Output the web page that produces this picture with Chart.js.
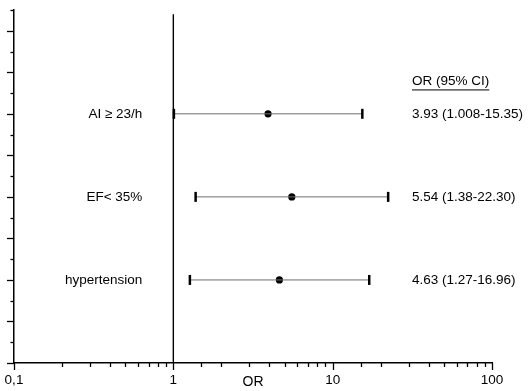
<!DOCTYPE html>
<html lang="en">
<head>
<meta charset="UTF-8">
<title>Forest plot</title>
<script src="https://cdn.jsdelivr.net/npm/chart.js"></script>
<style>
  body{margin:0; background:#fff;}
  #myChart{display:block;}
</style>
</head>
<body>
<canvas id="myChart" width="529" height="391"></canvas>
<script>
// data
const rowLabels = ['AI \u2265 23/h', 'EF< 35%', 'hypertension'];
const rowPos = [6, 4, 2];
const orValues = [3.93, 5.54, 4.63];
const ciLow = [1.008, 1.38, 1.27];
const ciHigh = [15.35, 22.30, 16.96];
const ciText = ['3.93 (1.008-15.35)', '5.54 (1.38-22.30)', '4.63 (1.27-16.96)'];
const headerText = 'OR (95% CI)';
const headerPos = 6.78;
const xTickValues = [0.1, 1, 10, 100];
const xTickLabels = ['0,1', '1', '10', '100'];
const refValue = 1;
const yMin = 0, yMax = 8.5;

const FONT = '"Liberation Sans", Arial, sans-serif';

let datasets = [];
// reference line at OR = 1
datasets.push({
  data: [{x: refValue, y: yMin}, {x: refValue, y: 8.4}],
  showLine: true, borderColor: '#000', borderWidth: 1.4, pointRadius: 0
});
// CI whiskers with caps
for (let i = 0; i < rowLabels.length; i++) {
  datasets.push({
    data: [{x: ciLow[i], y: rowPos[i]}, {x: ciHigh[i], y: rowPos[i]}],
    showLine: true, borderColor: '#6f6f6f', borderWidth: 1,
    pointStyle: 'line', pointRotation: 90, pointRadius: 5,
    pointBorderColor: '#000', pointBorderWidth: 2.5
  });
}
// point estimates
datasets.push({
  data: orValues.map((v, i) => ({x: v, y: rowPos[i]})),
  pointRadius: 3.6, pointBackgroundColor: '#000', pointBorderColor: '#000', pointBorderWidth: 0
});

// tick marks (long for major, short for minor) and the text columns
const forestText = {
  id: 'forestText',
  afterDraw(chart) {
    const c = chart.ctx, xs = chart.scales.x, ys = chart.scales.y, area = chart.chartArea;
    c.save();
    c.strokeStyle = '#000';
    c.lineWidth = 1.3;
    ys.ticks.forEach(t => {
      const y = Math.round(ys.getPixelForValue(t.value)) + 0.5;
      const len = Number.isInteger(t.value) ? 7 : 3.5;
      c.beginPath(); c.moveTo(area.left, y); c.lineTo(area.left - len, y); c.stroke();
    });
    xs.ticks.forEach(t => {
      const lg = Math.log10(t.value);
      const major = Math.abs(lg - Math.round(lg)) < 1e-6;
      const x = Math.round(xs.getPixelForValue(t.value)) + 0.5;
      c.beginPath(); c.moveTo(x, area.bottom); c.lineTo(x, area.bottom + (major ? 7 : 4)); c.stroke();
    });

    c.fillStyle = '#000';
    c.font = '13.5px ' + FONT;
    c.textBaseline = 'middle';
    const leftX = xs.getPixelForValue(refValue) - 31;
    const rightX = area.right - 80;
    for (let i = 0; i < rowLabels.length; i++) {
      const y = ys.getPixelForValue(rowPos[i]);
      c.textAlign = 'right';
      c.fillText(rowLabels[i], leftX, y);
      c.textAlign = 'left';
      c.fillText(ciText[i], rightX, y);
    }
    const hy = ys.getPixelForValue(headerPos);
    c.textAlign = 'left';
    c.fillText(headerText, rightX, hy);
    const w = c.measureText(headerText).width;
    c.lineWidth = 1;
    c.beginPath(); c.moveTo(rightX, hy + 8.5); c.lineTo(rightX + w, hy + 8.5); c.stroke();
    c.restore();
  }
};

const ctx = document.getElementById('myChart');
let myChart = new Chart(ctx, {
  type: 'scatter',
  data: {datasets: datasets},
  plugins: [forestText],
  options: {
    responsive: false,
    animation: false,
    layout: {padding: {top: 10, right: 37, left: 0, bottom: 0}},
    plugins: {legend: {display: false}, tooltip: {enabled: false}},
    scales: {
      x: {
        type: 'logarithmic',
        min: 0.1, max: 100,
        afterFit: s => { s.height = 28; },
        border: {color: '#000', width: 1.5},
        grid: {display: true, drawOnChartArea: false, tickLength: 5, tickColor: 'rgba(0,0,0,0)'},
        ticks: {
          autoSkip: false, maxRotation: 0, padding: 4, color: '#000',
          font: {family: FONT, size: 13.5},
          callback: function (v) {
            const k = xTickValues.findIndex(t => Math.abs(t - v) < 1e-9);
            return k >= 0 ? xTickLabels[k] : '';
          }
        },
        title: {display: true, text: 'OR', color: '#000', font: {family: FONT, size: 14}, padding: {top: -8, bottom: 0}}
      },
      y: {
        type: 'linear',
        min: yMin, max: yMax,
        afterFit: s => { s.width = 14; },
        border: {color: '#000', width: 1.5},
        grid: {display: true, drawOnChartArea: false, drawTicks: false},
        ticks: {display: false, stepSize: 0.5}
      }
    }
  }
});
</script>
</body>
</html>
